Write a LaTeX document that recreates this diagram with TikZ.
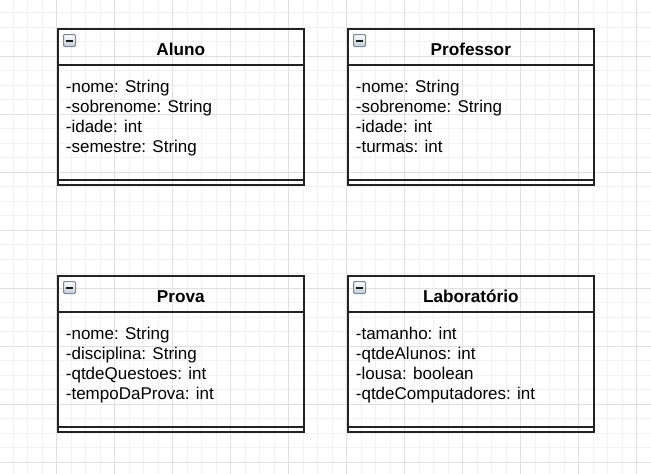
\documentclass[tikz,border=0pt]{standalone}
\usepackage{fontspec}
\setmainfont{Liberation Sans}
\definecolor{minorgrid}{HTML}{F1F1F1}
\definecolor{majorgrid}{HTML}{E0E0E0}
\definecolor{boxline}{HTML}{222222}
\definecolor{iconline}{HTML}{7D8898}
\definecolor{iconfill}{HTML}{BFC9D6}
\tikzset{
  minorline/.style={draw=minorgrid, line width=1pt},
  majorline/.style={draw=majorgrid, line width=1pt},
  classbox/.style={draw=boxline, line width=1.6pt, minimum width=246pt, minimum height=156pt, anchor=north west, inner sep=0pt},
  sepline/.style={draw=boxline, line width=1.5pt},
  titletext/.style={font=\bfseries\fontsize{17.2}{20}\selectfont, anchor=base, inner sep=0pt},
  attrtext/.style={font=\fontsize{17}{20}\selectfont, anchor=base west, inner sep=0pt},
  iconbox/.style={draw=iconline, line width=1pt, top color=white, bottom color=iconfill, rounded corners=1.2pt},
  iconbar/.style={draw=black!90, line width=2pt}
}
\newcommand\umlclass[5]{%
  \node[classbox] (#1) at (#2,#3) {};
  \draw[sepline] ([yshift=-37pt]#1.north west) -- ([yshift=-37pt]#1.north east);
  \draw[sepline] ([yshift=5.5pt]#1.south west) -- ([yshift=5.5pt]#1.south east);
  \node[titletext] (#1-title) at ([yshift=-27pt]#1.north) {#4};
  \path[iconbox] ([xshift=6.5pt,yshift=-6.5pt]#1.north west) rectangle ([xshift=18.5pt,yshift=-18.5pt]#1.north west);
  \draw[iconbar] ([xshift=9pt,yshift=-12.5pt]#1.north west) -- ([xshift=16pt,yshift=-12.5pt]#1.north west);
  \foreach \txt [count=\k] in {#5} {
    \node[attrtext] (#1-a\k) at ([xshift=8.7pt,yshift={-64.5pt-20pt*(\k-1)}]#1.north west) {\txt};
  }
}
\begin{document}
\begin{tikzpicture}[x=1pt,y=-1pt]
\useasboundingbox (0,0) rectangle (651,474);
\fill[white] (0,0) rectangle (651,474);
% grid
\foreach \k in {0,...,44} \draw[minorline] ({13.2+14.5*\k},0) -- ({13.2+14.5*\k},474);
\foreach \k in {0,...,32} \draw[minorline] (0,{12.8+14.5*\k}) -- (651,{12.8+14.5*\k});
\foreach \k in {1,...,11} \draw[majorline] ({-1.3+58*\k},0) -- ({-1.3+58*\k},474);
\foreach \k in {1,...,8} \draw[majorline] (0,{-1.7+58*\k}) -- (651,{-1.7+58*\k});
% classes
\umlclass{aluno}{57}{28}{Aluno}{-nome: String,-sobrenome: String,-idade: int,-semestre: String}
\umlclass{professor}{347}{28}{Professor}{-nome: String,-sobrenome: String,-idade: int,-turmas: int}
\umlclass{prova}{57}{275}{Prova}{-nome: String,-disciplina: String,-qtdeQuestoes: int,-tempoDaProva: int}
\umlclass{laboratorio}{347}{275}{Laboratório}{-tamanho: int,-qtdeAlunos: int,-lousa: boolean,-qtdeComputadores: int}
\end{tikzpicture}
\end{document}
